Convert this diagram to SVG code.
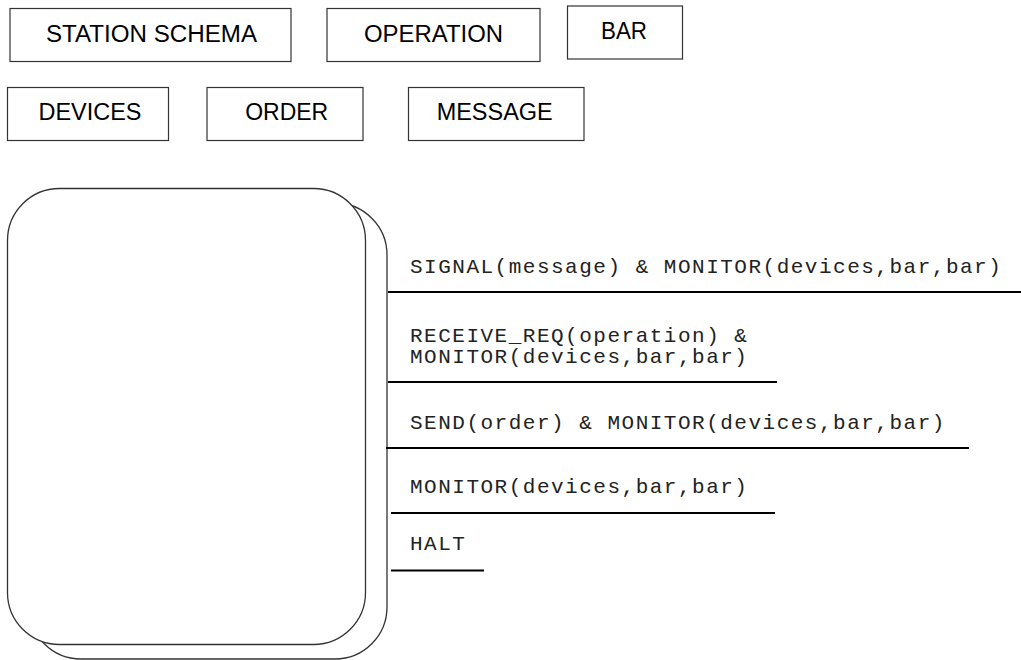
<svg xmlns="http://www.w3.org/2000/svg" width="1021" height="660" viewBox="0 0 1021 660">
<style>
.box{fill:#fff;stroke:#333;stroke-width:1.2}
.lbl{font-family:"Liberation Sans",Arial,sans-serif;font-size:23.5px;fill:#000;text-anchor:middle}
.st{fill:#fff;stroke:#333;stroke-width:1.3}
.mono{font-family:"Liberation Mono","Courier New",monospace;font-size:21px;letter-spacing:1.5px;fill:#222}
.sep{stroke:#000;stroke-width:2.2;fill:none}
</style>
<rect width="1021" height="660" fill="#fff"/>
<g id="station-schema"><rect class="box" x="10" y="8.5" width="281" height="53"/><text class="lbl" x="151.5" y="41.5" textLength="211" lengthAdjust="spacingAndGlyphs">STATION SCHEMA</text></g>
<g id="operation"><rect class="box" x="327" y="8.5" width="213" height="53"/><text class="lbl" x="433.5" y="41.5" textLength="139" lengthAdjust="spacingAndGlyphs">OPERATION</text></g>
<g id="bar"><rect class="box" x="567.5" y="6" width="115" height="53"/><text class="lbl" x="624" y="39" textLength="46" lengthAdjust="spacingAndGlyphs">BAR</text></g>
<g id="devices"><rect class="box" x="7.5" y="87.5" width="161" height="53"/><text class="lbl" x="90" y="120" textLength="103" lengthAdjust="spacingAndGlyphs">DEVICES</text></g>
<g id="order"><rect class="box" x="207" y="87.5" width="156" height="53"/><text class="lbl" x="286.7" y="120" textLength="83" lengthAdjust="spacingAndGlyphs">ORDER</text></g>
<g id="message"><rect class="box" x="408.5" y="87.5" width="175.5" height="53"/><text class="lbl" x="494.7" y="120" textLength="116" lengthAdjust="spacingAndGlyphs">MESSAGE</text></g>
<g id="state">
<rect class="st" x="29" y="203" width="358" height="456" rx="52" ry="52"/>
<rect class="st" x="7.5" y="188.5" width="358" height="456" rx="52" ry="52"/>
</g>
<g id="connectors">
<line class="sep" x1="388" y1="292" x2="1021" y2="292"/>
<line class="sep" x1="388" y1="382" x2="777" y2="382"/>
<line class="sep" x1="386" y1="448" x2="969" y2="448"/>
<line class="sep" x1="391" y1="513" x2="775" y2="513"/>
<line class="sep" x1="391" y1="570.5" x2="484" y2="570.5"/>
</g>
<g id="transitions">
<text class="mono" x="410" y="273">SIGNAL(message) &amp; MONITOR(devices,bar,bar)</text>
<text class="mono" x="410" y="341.5">RECEIVE_REQ(operation) &amp;</text>
<text class="mono" x="410" y="362.5">MONITOR(devices,bar,bar)</text>
<text class="mono" x="410" y="429">SEND(order) &amp; MONITOR(devices,bar,bar)</text>
<text class="mono" x="410" y="492.5">MONITOR(devices,bar,bar)</text>
<text class="mono" x="410" y="550">HALT</text>
</g>
</svg>
